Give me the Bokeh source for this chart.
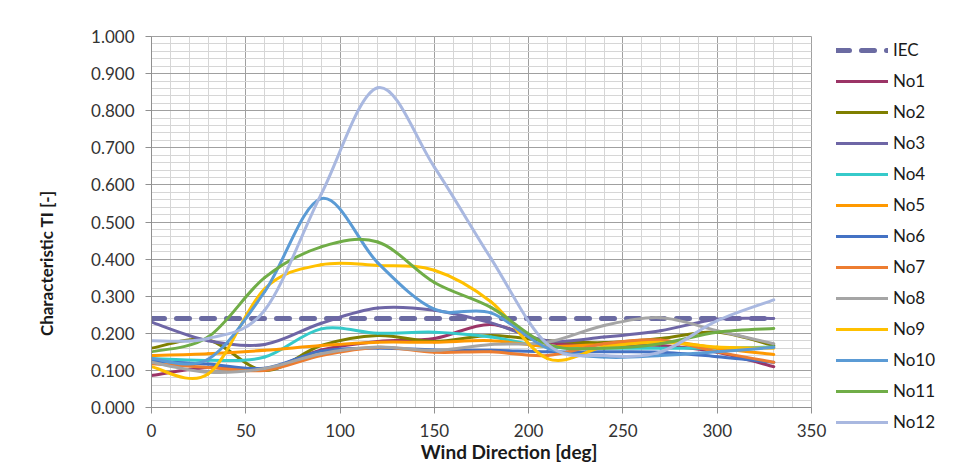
import numpy as np
from bokeh.plotting import figure
from bokeh.models import (SingleIntervalTicker, Legend, LegendItem, Range1d,
                          NumeralTickFormatter, ColumnDataSource)
from bokeh.embed import file_html
from bokeh.resources import INLINE

# ---- data ----
direction = [0, 30, 60, 90, 120, 150, 180, 210, 240, 270, 300, 330]
iec  = [0.240] * 12
no1  = [0.086, 0.108, 0.102, 0.155, 0.178, 0.186, 0.224, 0.176, 0.170, 0.167, 0.149, 0.110]
no2  = [0.160, 0.182, 0.100, 0.167, 0.194, 0.178, 0.194, 0.180, 0.175, 0.186, 0.203, 0.167]
no3  = [0.230, 0.180, 0.170, 0.227, 0.268, 0.262, 0.228, 0.180, 0.190, 0.207, 0.238, 0.240]
no4  = [0.132, 0.127, 0.136, 0.212, 0.200, 0.203, 0.190, 0.163, 0.160, 0.160, 0.160, 0.163]
no5  = [0.140, 0.145, 0.154, 0.167, 0.176, 0.176, 0.180, 0.165, 0.170, 0.180, 0.160, 0.143]
no6  = [0.125, 0.117, 0.106, 0.152, 0.160, 0.155, 0.154, 0.150, 0.150, 0.149, 0.137, 0.122]
no7  = [0.118, 0.108, 0.100, 0.140, 0.162, 0.149, 0.150, 0.140, 0.172, 0.182, 0.150, 0.122]
no8  = [0.122, 0.095, 0.105, 0.145, 0.163, 0.154, 0.170, 0.176, 0.221, 0.242, 0.207, 0.172]
no9  = [0.110, 0.090, 0.320, 0.385, 0.383, 0.370, 0.285, 0.132, 0.163, 0.176, 0.163, 0.160]
no10 = [0.132, 0.130, 0.312, 0.563, 0.390, 0.265, 0.255, 0.160, 0.136, 0.140, 0.150, 0.162]
no11 = [0.150, 0.190, 0.350, 0.433, 0.446, 0.337, 0.270, 0.170, 0.160, 0.172, 0.203, 0.213]
no12 = [0.180, 0.186, 0.262, 0.575, 0.862, 0.648, 0.402, 0.170, 0.140, 0.150, 0.234, 0.290]

series_names = ["No1", "No2", "No3", "No4", "No5", "No6", "No7", "No8", "No9", "No10", "No11", "No12"]
series_values = [no1, no2, no3, no4, no5, no6, no7, no8, no9, no10, no11, no12]
series_colors = ["#9B3466", "#7F7F00", "#6E66A6", "#36CACA", "#FF9900", "#4472C4",
                 "#ED7D31", "#A5A5A5", "#FFC000", "#5B9BD5", "#70AD47", "#A9B8E0"]
iec_color = "#6B6BA2"

x_title = "Wind Direction [deg]"
y_title = "Characteristic TI [-]"
x_ticks_interval = 50
y_ticks_interval = 0.1
FONT = "Lato"
NBSP = "\u00a0"


def smooth_segments(xs, ys):
    """Bezier control points for Excel-like smoothed line (Catmull-Rom, 1/6)."""
    x = np.asarray(xs, float)
    y = np.asarray(ys, float)
    xp = np.concatenate([[x[0]], x, [x[-1]]])
    yp = np.concatenate([[y[0]], y, [y[-1]]])
    n = len(x)
    i = np.arange(n - 1)
    return dict(
        x0=x[i], y0=y[i], x1=x[i + 1], y1=y[i + 1],
        cx0=x[i] + (x[i + 1] - xp[i]) / 6.0,
        cy0=y[i] + (y[i + 1] - yp[i]) / 6.0,
        cx1=x[i + 1] - (xp[i + 3] - x[i]) / 6.0,
        cy1=y[i + 1] - (yp[i + 3] - y[i]) / 6.0,
    )


p = figure(width=961, height=473, output_backend="svg", toolbar_location=None,
           x_range=Range1d(0, 350), y_range=Range1d(0, 1.0),
           min_border_left=151, min_border_right=150, min_border_top=36, min_border_bottom=66)
p.frame_width = 660
p.frame_height = 371
p.background_fill_color = "white"
p.border_fill_color = "white"
p.outline_line_color = "#A0A0A0"

p.xaxis.ticker = SingleIntervalTicker(interval=x_ticks_interval, num_minor_ticks=5)
p.yaxis.ticker = SingleIntervalTicker(interval=y_ticks_interval, num_minor_ticks=5)
p.yaxis.formatter = NumeralTickFormatter(format="0.000")

for ax in (p.xaxis, p.yaxis):
    ax.axis_line_color = "#909090"
    ax.major_tick_line_color = "#909090"
    ax.minor_tick_line_color = None
    ax.major_tick_in = 0
    ax.major_tick_out = 6
    ax.major_label_text_font = FONT
    ax.major_label_text_font_size = "17px"
    ax.major_label_text_color = "#333333"
    ax.axis_label_text_font = FONT
    ax.axis_label_text_font_style = "bold"
    ax.axis_label_text_color = "#1a1a1a"

p.xaxis.axis_label_text_font_size = "19px"
p.yaxis.axis_label_text_font_size = "17px"
# titles sit off-centre in the reference (manually placed in the original)
p.xaxis.axis_label = NBSP * 12 + x_title
p.yaxis.axis_label = y_title + NBSP * 20
p.xaxis.major_label_standoff = 10
p.xaxis.axis_label_standoff = 0
p.yaxis.major_label_standoff = 11
p.yaxis.axis_label_standoff = 31

for g in (p.xgrid, p.ygrid):
    g.grid_line_color = "#A0A0A0"
    g.grid_line_width = 1
    g.minor_grid_line_color = "#D6D6D6"
    g.minor_grid_line_width = 1
    g.level = "underlay"

items = []
r_iec = p.line(direction, iec, line_color=iec_color, line_width=5,
               line_dash="13 12", line_cap="round")
items.append(LegendItem(label="IEC", renderers=[r_iec]))

for name, vals, col in zip(series_names, series_values, series_colors):
    src = ColumnDataSource(smooth_segments(direction, vals))
    r = p.bezier(x0="x0", y0="y0", x1="x1", y1="y1", cx0="cx0", cy0="cy0",
                 cx1="cx1", cy1="cy1", source=src, line_color=col, line_width=3,
                 line_cap="round")
    items.append(LegendItem(label=name, renderers=[r]))

legend = Legend(items=items, location=(25, -25))
legend.padding = 4
legend.margin = 0
legend.spacing = 10
legend.glyph_height = 20
legend.label_height = 20
legend.glyph_width = 52
legend.label_standoff = 5
legend.label_text_font = FONT
legend.label_text_font_size = "17px"
legend.label_text_color = "#1a1a1a"
legend.background_fill_alpha = 0
legend.border_line_color = None
p.add_layout(legend, "right")

open("out.html", "w").write(file_html(p, INLINE))
